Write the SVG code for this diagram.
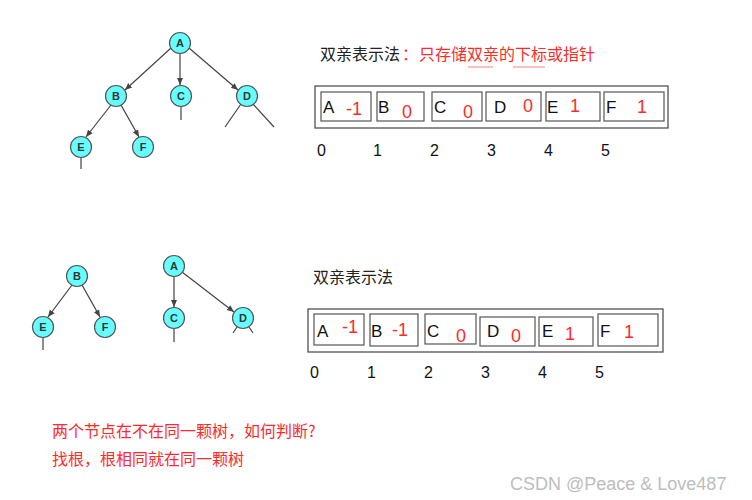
<svg xmlns="http://www.w3.org/2000/svg" width="752" height="500" viewBox="0 0 752 500">
<style>
.n circle{fill:#66ffff;stroke:#555;stroke-width:1.2}
.n text{font-family:"Liberation Sans",Arial,sans-serif;font-weight:bold;font-size:11px;fill:#333;text-anchor:middle}
.e line{stroke:#444;stroke-width:1.2}
.a{marker-end:url(#arr)}
.cn{font-family:"Noto Sans CJK SC",sans-serif;font-size:16px;fill:#222}
.red{fill:#ff2a2a}
.box{fill:none;stroke:#444;stroke-width:1.2}
.ib{fill:none;stroke:#555;stroke-width:1.2}
.lt{font-family:"Liberation Sans",Arial,sans-serif;font-size:17px;fill:#111}
.v{font-family:"Liberation Sans",Arial,sans-serif;font-size:18px;fill:#ff2a2a}
.ix{font-family:"Liberation Sans",Arial,sans-serif;font-size:16px;fill:#111}
</style>
<defs>
<marker id="arr" markerWidth="8" markerHeight="8" refX="7" refY="4" orient="auto" markerUnits="userSpaceOnUse">
<path d="M0,1 L7,4 L0,7 Z" fill="#444"/>
</marker>
</defs>
<rect width="752" height="500" fill="#fff"/>
<g id="connectors" class="e">
<line class="a" x1="171" y1="48" x2="125" y2="90"/>
<line class="a" x1="180" y1="53" x2="180" y2="85"/>
<line class="a" x1="189" y1="48" x2="238" y2="90"/>
<line class="a" x1="111" y1="105" x2="86" y2="137"/>
<line class="a" x1="121" y1="105" x2="139" y2="137"/>
<line x1="181" y1="106" x2="181" y2="120"/>
<line x1="241" y1="104" x2="225" y2="127"/>
<line x1="253" y1="104" x2="274" y2="127"/>
<line x1="81" y1="157" x2="81" y2="169"/>
<line class="a" x1="72" y1="285" x2="48" y2="317"/>
<line class="a" x1="82" y1="285" x2="100" y2="317"/>
<line x1="43" y1="337" x2="43" y2="350"/>
<line class="a" x1="174" y1="276" x2="174" y2="307"/>
<line class="a" x1="182" y1="272" x2="234" y2="312"/>
<line x1="174" y1="328" x2="174" y2="342"/>
<line x1="237" y1="327" x2="233" y2="333"/>
<line x1="249" y1="327" x2="253" y2="333"/>
</g>
<g id="tA" class="n"><circle cx="180" cy="43" r="10.5"/><text x="180" y="47">A</text></g>
<g id="tB" class="n"><circle cx="116" cy="96" r="10.5"/><text x="116" y="100">B</text></g>
<g id="tC" class="n"><circle cx="181" cy="96" r="10.5"/><text x="181" y="100">C</text></g>
<g id="tD" class="n"><circle cx="247" cy="96" r="10.5"/><text x="247" y="100">D</text></g>
<g id="tE" class="n"><circle cx="81" cy="147" r="10.5"/><text x="81" y="151">E</text></g>
<g id="tF" class="n"><circle cx="143" cy="147" r="10.5"/><text x="143" y="151">F</text></g>
<g id="bB" class="n"><circle cx="77" cy="276" r="10.5"/><text x="77" y="280">B</text></g>
<g id="bE" class="n"><circle cx="43" cy="327" r="10.5"/><text x="43" y="331">E</text></g>
<g id="bF" class="n"><circle cx="105" cy="327" r="10.5"/><text x="105" y="331">F</text></g>
<g id="bA" class="n"><circle cx="174" cy="266" r="10.5"/><text x="174" y="270">A</text></g>
<g id="bC" class="n"><circle cx="174" cy="318" r="10.5"/><text x="174" y="322">C</text></g>
<g id="bD" class="n"><circle cx="243" cy="318" r="10.5"/><text x="243" y="322">D</text></g>

<g id="top-array">
<text class="cn" x="320" y="60">双亲表示法</text>
<text class="cn red" x="402" y="60">：</text>
<text class="cn red" x="419" y="60">只存储双亲的下标或指针</text>
<line x1="468" y1="67" x2="493" y2="67" stroke="#ff8080" stroke-width="1"/>
<line x1="513" y1="67" x2="545" y2="67" stroke="#ff8080" stroke-width="1"/>
<rect class="box" x="315" y="86" width="353" height="42"/>
<rect class="ib" x="321" y="92" width="50" height="29"/>
<rect class="ib" x="377" y="92" width="47" height="29"/>
<rect class="ib" x="432" y="92" width="50" height="29"/>
<rect class="ib" x="486" y="92" width="55" height="29"/>
<rect class="ib" x="546" y="92" width="54" height="29"/>
<rect class="ib" x="604" y="92" width="60" height="29"/>
<text class="lt" x="323" y="113">A</text>
<text class="lt" x="378" y="113">B</text>
<text class="lt" x="434" y="113">C</text>
<text class="lt" x="494" y="113">D</text>
<text class="lt" x="547" y="113">E</text>
<text class="lt" x="606" y="113">F</text>
<text class="v" x="346" y="115">-1</text>
<text class="v" x="402" y="118">0</text>
<text class="v" x="463" y="118">0</text>
<text class="v" x="523" y="112">0</text>
<text class="v" x="570" y="112">1</text>
<text class="v" x="637" y="113">1</text>
<text class="ix" x="317" y="156">0</text>
<text class="ix" x="373" y="156">1</text>
<text class="ix" x="430" y="156">2</text>
<text class="ix" x="487" y="156">3</text>
<text class="ix" x="544" y="156">4</text>
<text class="ix" x="601" y="156">5</text>
</g>

<g id="bottom-array">
<text class="cn" x="313" y="283">双亲表示法</text>
<rect class="box" x="308" y="309" width="355" height="43"/>
<rect class="ib" x="314" y="314" width="50" height="31"/>
<rect class="ib" x="370" y="314" width="48" height="32"/>
<rect class="ib" x="425" y="314" width="51" height="30"/>
<rect class="ib" x="480" y="317" width="55" height="29"/>
<rect class="ib" x="539" y="317" width="54" height="29"/>
<rect class="ib" x="598" y="314" width="60" height="32"/>
<text class="lt" x="317" y="337">A</text>
<text class="lt" x="371" y="337">B</text>
<text class="lt" x="427" y="337">C</text>
<text class="lt" x="487" y="337">D</text>
<text class="lt" x="542" y="337">E</text>
<text class="lt" x="600" y="337">F</text>
<text class="v" x="342" y="333">-1</text>
<text class="v" x="392" y="336">-1</text>
<text class="v" x="456" y="342">0</text>
<text class="v" x="511" y="342">0</text>
<text class="v" x="565" y="340">1</text>
<text class="v" x="624" y="338">1</text>
<text class="ix" x="310" y="378">0</text>
<text class="ix" x="367" y="378">1</text>
<text class="ix" x="424" y="378">2</text>
<text class="ix" x="481" y="378">3</text>
<text class="ix" x="538" y="378">4</text>
<text class="ix" x="595" y="378">5</text>
</g>

<g id="notes">
<text class="cn red" x="52" y="437" font-size="15">两个节点在不在同一颗树，如何判断?</text>
<text class="cn red" x="52" y="465" font-size="15">找根，根相同就在同一颗树</text>
</g>
<text x="510" y="490" font-family="'Liberation Sans',Arial,sans-serif" font-size="18" fill="#bdbdbd">CSDN @Peace &amp; Love487</text>
</svg>
